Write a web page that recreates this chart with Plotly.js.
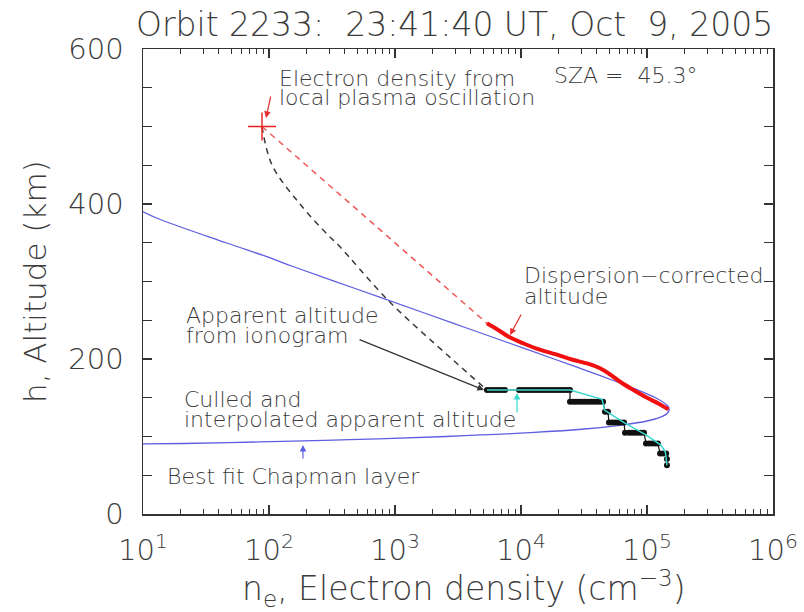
<!DOCTYPE html>
<html>
<head>
<meta charset="utf-8">
<script src="https://cdn.plot.ly/plotly-3.0.1.min.js"></script>
<style>body{margin:0;background:#fff}#chart{width:804px;height:612px}</style>
</head>
<body>
<div id="chart"></div>
<script>
// ---- data ----
// Best-fit Chapman layer (upper branch -> peak -> lower branch)
const chapmanN = [10, 13.7, 45.6, 100, 151, 502, 1667, 3700, 8250, 18300, 33000, 59000, 85000, 117000, 145000, 150000,
                  145000, 128000, 100000, 65000, 33500, 11900, 2560, 735, 275, 85, 21, 10];
const chapmanH = [390, 380, 350, 331, 320, 290, 260, 240, 220, 200, 185, 170, 160, 150, 140, 135,
                  130, 125, 120, 115, 110, 105, 100, 97, 95, 93, 91, 90.5];

// Local plasma oscillation point
const plasmaN = [88];
const plasmaH = [500];

// Red dashed connector (plasma point -> corrected profile top)
const redDashN = [88, 5370];
const redDashH = [500, 246];

// Dispersion-corrected altitude
const correctedN = [5370, 6500, 8130, 10500, 14100, 19000, 25700, 34000, 42400, 50000, 62000, 78000, 100000, 125000, 148000];
const correctedH = [246, 238, 228, 220, 212, 206, 199, 194, 188, 181, 170, 160, 150, 142, 135];

// Black dashed connector (plasma point -> apparent altitude start)
const blackDashN = [88, 106, 176, 294, 360, 890, 2830, 5370];
const blackDashH = [500, 450, 400, 360, 346, 275, 200, 160];

// Apparent altitude from ionogram (quantized steps)
const apparentN = [5370, 5680, 6000, 6340, 6690, 7070, 7470, 9640, 10180, 10760, 11370, 12000, 12680, 13400, 14160, 14960,
                   15800, 16670, 17630, 18620, 19670, 20770, 21930, 23170, 24480,
                   24480, 25900, 27300, 28800, 30500, 32200, 34000, 36000, 37900, 40100, 42400, 44800,
                   46400, 49000,
                   49900, 52700, 55700, 58900, 62200, 65700,
                   66900, 71900, 76000, 80300, 84900, 89600, 94700,
                   98200, 104000, 110000, 116000, 122000,
                   127000, 134000, 142000,
                   144000, 144000];
const apparentH = [160, 160, 160, 160, 160, 160, 160, 160, 160, 160, 160, 160, 160, 160, 160, 160,
                   160, 160, 160, 160, 160, 160, 160, 160, 160,
                   145, 145, 145, 145, 145, 145, 145, 145, 145, 145, 145, 145,
                   132, 132,
                   118, 118, 118, 118, 118, 118,
                   105, 105, 105, 105, 105, 105, 105,
                   91, 91, 91, 91, 91,
                   78, 78, 78,
                   71, 63];

// Culled and interpolated apparent altitude
const culledN = [5370, 24480, 44000, 46000, 65700, 98000, 129000, 140000, 144000];
const culledH = [160, 160, 148, 134, 118, 102, 89, 80, 63];

// Axis ticks
const xTickVals = [10, 100, 1000, 10000, 100000, 1000000];
const xTickText = ['10<sup>1</sup>', '10<sup>2</sup>', '10<sup>3</sup>', '10<sup>4</sup>', '10<sup>5</sup>', '10<sup>6</sup>'];
const yTickVals = [0, 200, 400, 600];
const yTickText = ['0', '200', '400', '600'];

// ---- layout geometry (pixels) ----
const W = 804, H = 612;
const L = 143, R = 773, T = 49, B = 514;
const px = x => (x - L) / (R - L);
const py = y => (B - y) / (B - T);
const FONT = 'DejaVu Sans';
const TXT = '#3c3c3c';

const traces = [
  {x: chapmanN, y: chapmanH, mode: 'lines', line: {color: '#5e5ee0', width: 1.3, shape: 'spline'}, hoverinfo: 'skip'},
  {x: blackDashN, y: blackDashH, mode: 'lines', line: {color: '#3a3a3a', width: 1.5, dash: '6px,5px', shape: 'spline'}, hoverinfo: 'skip'},
  {x: redDashN, y: redDashH, mode: 'lines', line: {color: '#f05a5a', width: 1.5, dash: '6px,5px'}, hoverinfo: 'skip'},
  {x: correctedN, y: correctedH, mode: 'lines', line: {color: '#f01010', width: 4, shape: 'spline'}, hoverinfo: 'skip'},
  {x: apparentN, y: apparentH, mode: 'lines+markers', line: {color: '#111111', width: 1.2},
   marker: {color: '#111111', size: 6}, hoverinfo: 'skip'},
  {x: culledN, y: culledH, mode: 'lines', line: {color: '#3ad8cc', width: 1.5}, hoverinfo: 'skip'},
  {x: plasmaN, y: plasmaH, mode: 'markers', marker: {symbol: 'cross-thin', size: 20, line: {color: '#e82020', width: 1.4}}, hoverinfo: 'skip'}
];

function label(text, x, y, size) {
  return {text: text, xref: 'paper', yref: 'paper', x: px(x), y: py(y), xanchor: 'left', yanchor: 'middle',
          showarrow: false, font: {family: FONT, size: size || 22, color: TXT, weight: 300}};
}
function arrow(hx, hy, tx, ty, color) {
  return {text: '', xref: 'paper', yref: 'paper', x: px(hx), y: py(hy), ax: tx - hx, ay: ty - hy,
          showarrow: true, arrowhead: 2, arrowsize: 1.1, arrowwidth: 1.2, arrowcolor: color, standoff: 0};
}

const annotations = [
  label('Electron density from', 277, 78),
  label('local plasma oscillation', 277, 98),
  label('SZA =\u00a0\u00a045.3°', 552, 75),
  label('Dispersion\u2212corrected', 522, 275),
  label('altitude', 522, 296),
  label('Apparent altitude', 184, 315),
  label('from ionogram', 184, 335),
  label('Culled and', 182, 399),
  label('interpolated apparent altitude', 182, 419),
  label('Best fit Chapman layer', 165, 476),
  arrow(266, 118, 271, 95, '#e83030'),
  arrow(510, 335, 522, 313, '#e83030'),
  arrow(484, 390, 358, 339, '#333333'),
  arrow(517, 393, 517, 414, '#3ad8cc'),
  arrow(303, 445, 303, 460, '#5e5ee0'),
  // axis titles
  {text: 'h, Altitude (km)', xref: 'paper', yref: 'paper', x: px(35), y: py(282), xanchor: 'center', yanchor: 'middle',
   textangle: -90, showarrow: false, font: {family: FONT, size: 31, color: TXT, weight: 300}},
  {text: 'n<sub>e</sub>, Electron density (cm<sup>\u22123</sup>)', xref: 'paper', yref: 'paper', x: px(464), y: py(588),
   xanchor: 'center', yanchor: 'middle', showarrow: false, font: {family: FONT, size: 33, color: TXT, weight: 300}}
];

const axisCommon = {
  showline: true, linecolor: '#333', linewidth: 1.5, mirror: 'ticks',
  ticks: 'inside', tickcolor: '#333', tickwidth: 1.2, showgrid: false, zeroline: false,
  tickfont: {family: FONT, size: 29, color: TXT, weight: 300}
};

const layout = {
  width: W, height: H,
  margin: {l: L, r: W - R, t: T, b: H - B},
  paper_bgcolor: '#fff', plot_bgcolor: '#fff',
  showlegend: false,
  title: {text: 'Orbit 2233:\u00a0\u00a023:41:40 UT, Oct\u00a0\u00a09, 2005', x: 136 / W, xanchor: 'left',
          y: 1 - 24 / H, yanchor: 'middle', font: {family: FONT, size: 33, color: TXT, weight: 300}},
  xaxis: Object.assign({}, axisCommon, {
    type: 'log', range: [1, 6], tickvals: xTickVals, ticktext: xTickText, ticklen: 9,
    minor: {ticks: 'inside', ticklen: 5, tickcolor: '#333', tickwidth: 1, dtick: 'D1', showgrid: false},
    ticklabelstandoff: 10
  }),
  yaxis: Object.assign({}, axisCommon, {
    range: [0, 600], tickvals: yTickVals, ticktext: yTickText, ticklen: 9,
    minor: {ticks: 'inside', ticklen: 9, tickcolor: '#333', tickwidth: 1.2, dtick: 50, showgrid: false},
    ticklabelstandoff: 12
  }),
  annotations: annotations
};

Plotly.newPlot('chart', traces, layout, {staticPlot: true, displayModeBar: false});
</script>
</body>
</html>
